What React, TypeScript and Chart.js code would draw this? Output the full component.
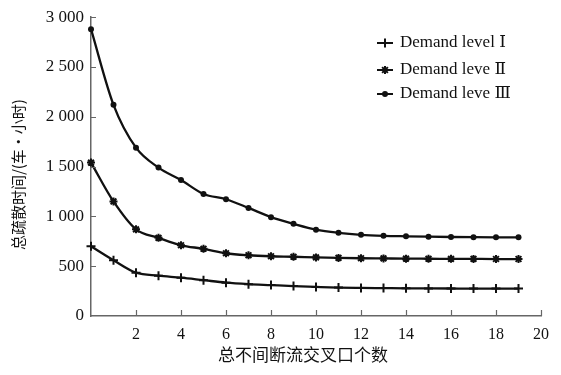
import React, { useEffect, useRef } from "react";
import { Chart, registerables } from "chart.js";

Chart.register(...registerables);

const xValues = [0, 1, 2, 3, 4, 5, 6, 7, 8, 9, 10, 11, 12, 13, 14, 15, 16, 17, 18, 19];
const level1 = [700, 560, 435, 405, 385, 360, 335, 320, 310, 300, 292, 285, 282, 280, 278, 277, 276, 275, 275, 275];
const level2 = [1540, 1150, 870, 785, 710, 675, 630, 610, 600, 595, 588, 583, 580, 578, 576, 575, 574, 573, 572, 572];
const level3 = [2880, 2120, 1690, 1490, 1365, 1225, 1172, 1085, 992, 925, 867, 835, 815, 805, 800, 796, 793, 791, 790, 790];
const seriesLabels = ["Demand level \u2160", "Demand leve \u2161", "Demand leve \u2162"];
const seriesMarkers = ["cross", "star", "circle"];
const xTickValues = [2, 4, 6, 8, 10, 12, 14, 16, 18, 20];
const xTickLabels = ["2", "4", "6", "8", "10", "12", "14", "16", "18", "20"];
const yTickValues = [0, 500, 1000, 1500, 2000, 2500, 3000];
const yTickLabels = ["0", "500", "1 000", "1 500", "2 000", "2 500", "3 000"];
const xTitle = "总不间断流交叉口个数";
const yTitle = "总疏散时间/(车·小时)";

const SERIF = "'Liberation Serif', 'DejaVu Serif', serif";
const CJK = "'Noto Sans CJK SC', 'Noto Sans', sans-serif";
const AXIS_COLOR = "#666";
const INK = "#111";

function drawMarker(ctx: CanvasRenderingContext2D, style: string, x: number, y: number) {
  ctx.save();
  ctx.strokeStyle = INK;
  ctx.fillStyle = INK;
  ctx.lineWidth = 2;
  ctx.beginPath();
  if (style === "circle") {
    ctx.arc(x, y, 3, 0, Math.PI * 2);
    ctx.fill();
  } else if (style === "star") {
    const r = 4;
    ctx.moveTo(x - r, y); ctx.lineTo(x + r, y);
    ctx.moveTo(x, y - r); ctx.lineTo(x, y + r);
    const d = r * 0.72;
    ctx.moveTo(x - d, y - d); ctx.lineTo(x + d, y + d);
    ctx.moveTo(x - d, y + d); ctx.lineTo(x + d, y - d);
    ctx.stroke();
  } else {
    const r = 4.5;
    ctx.moveTo(x - r, y); ctx.lineTo(x + r, y);
    ctx.moveTo(x, y - r); ctx.lineTo(x, y + r);
    ctx.stroke();
  }
  ctx.restore();
}

const decorPlugin = {
  id: "decor",
  afterDraw(chart: any) {
    const ctx: CanvasRenderingContext2D = chart.ctx;
    const xs = chart.scales.x;
    const ys = chart.scales.y;
    const { left, right, top, bottom } = chart.chartArea;
    ctx.save();
    ctx.strokeStyle = AXIS_COLOR;
    ctx.lineWidth = 1.2;
    ctx.beginPath();
    xTickValues.forEach((v) => {
      const px = Math.round(xs.getPixelForValue(v)) + 0.5;
      ctx.moveTo(px, bottom);
      ctx.lineTo(px, bottom - 6);
    });
    yTickValues.forEach((v) => {
      if (v === 0) return;
      const py = Math.round(ys.getPixelForValue(v)) + 0.5;
      ctx.moveTo(left, py);
      ctx.lineTo(left + 5, py);
    });
    ctx.stroke();

    ctx.fillStyle = INK;
    ctx.font = `17px ${CJK}`;
    ctx.textAlign = "center";
    ctx.textBaseline = "middle";
    ctx.fillText(xTitle, (left + right) / 2 - 13, 355);
    ctx.save();
    ctx.translate(18, (top + bottom) / 2 + 8);
    ctx.rotate(-Math.PI / 2);
    ctx.font = `15px ${CJK}`;
    ctx.fillText(yTitle, 0, 0);
    ctx.restore();

    const rowsY = [43, 70, 94];
    chart.data.datasets.forEach((ds: any, i: number) => {
      const y = rowsY[i];
      ctx.strokeStyle = INK;
      ctx.lineWidth = 2;
      ctx.beginPath();
      ctx.moveTo(377, y);
      ctx.lineTo(393, y);
      ctx.stroke();
      drawMarker(ctx, seriesMarkers[i], 385, y);
      ctx.fillStyle = INK;
      ctx.font = `17px ${SERIF}`;
      ctx.textAlign = "left";
      ctx.textBaseline = "middle";
      ctx.fillText(ds.label, 400, y);
    });
    ctx.restore();
  },
};

const markerPlugin = {
  id: "markers",
  afterDatasetsDraw(chart: any) {
    const ctx: CanvasRenderingContext2D = chart.ctx;
    chart.data.datasets.forEach((_ds: any, i: number) => {
      const meta = chart.getDatasetMeta(i);
      meta.data.forEach((pt: any) => {
        drawMarker(ctx, seriesMarkers[i], pt.x, pt.y);
      });
    });
  },
};

export default function App() {
  const ref = useRef<HTMLCanvasElement | null>(null);
  useEffect(() => {
    document.body.style.margin = "0";
    const canvas = ref.current;
    if (!canvas) return;
    const mk = (label: string, values: number[]) => ({
      label,
      data: xValues.map((x, i) => ({ x, y: values[i] })),
      borderColor: INK,
      backgroundColor: INK,
      borderWidth: 2.3,
      pointRadius: 0,
      cubicInterpolationMode: "monotone" as const,
    });
    const chart = new Chart(canvas, {
      type: "line",
      data: {
        datasets: [mk(seriesLabels[0], level1), mk(seriesLabels[1], level2), mk(seriesLabels[2], level3)],
      },
      options: {
        animation: false,
        responsive: false,
        maintainAspectRatio: false,
        layout: { padding: { top: 16, right: 20, left: 0, bottom: 0 } },
        plugins: { legend: { display: false }, tooltip: { enabled: false } },
        scales: {
          x: {
            type: "linear",
            min: 0,
            max: 20,
            afterFit: (s: any) => { s.height = 59; },
            afterBuildTicks: (s: any) => { s.ticks = xTickValues.map((v) => ({ value: v })); },
            ticks: {
              autoSkip: false,
              maxRotation: 0,
              padding: 9,
              color: INK,
              font: { family: SERIF, size: 16 },
              callback: (v: any) => {
                const i = xTickValues.indexOf(Number(v));
                return i >= 0 ? xTickLabels[i] : "";
              },
            },
            grid: { display: false, drawTicks: false },
            border: { display: true, color: AXIS_COLOR, width: 1.5 },
          },
          y: {
            type: "linear",
            min: 0,
            max: 3000,
            afterFit: (s: any) => { s.width = 91; },
            afterBuildTicks: (s: any) => { s.ticks = yTickValues.map((v) => ({ value: v })); },
            ticks: {
              autoSkip: false,
              padding: 7,
              color: INK,
              font: { family: SERIF, size: 17 },
              callback: (v: any) => {
                const i = yTickValues.indexOf(Number(v));
                return i >= 0 ? yTickLabels[i] : "";
              },
            },
            grid: { display: false, drawTicks: false },
            border: { display: true, color: AXIS_COLOR, width: 1.5 },
          },
        },
      },
      plugins: [markerPlugin, decorPlugin],
    });
    return () => chart.destroy();
  }, []);
  return <canvas ref={ref} width={561} height={375} style={{ display: "block" }} />;
}
